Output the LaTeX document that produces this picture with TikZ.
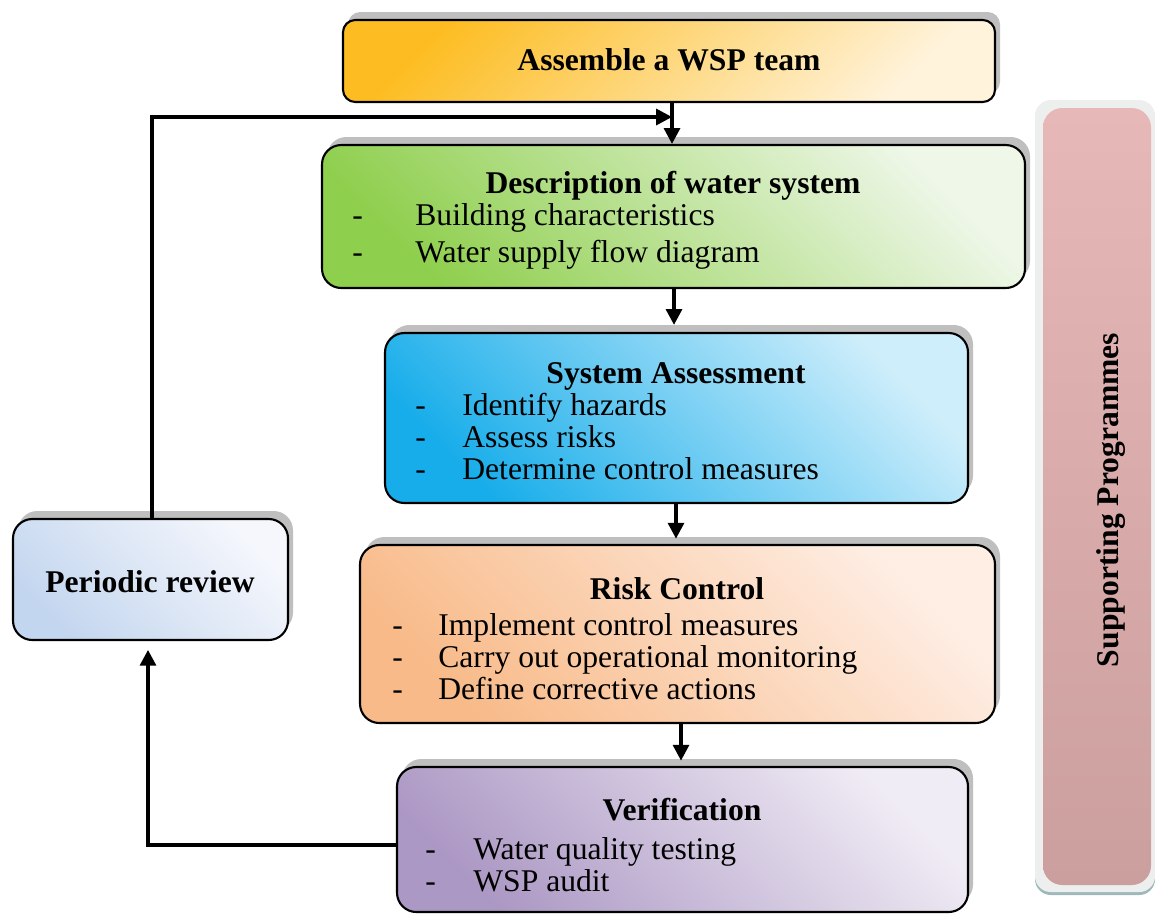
\documentclass[tikz,border=0pt]{standalone}
\usepackage{fontspec}
\setmainfont{Liberation Serif}
\usetikzlibrary{arrows.meta,fit,shadows}
\definecolor{shadowgray}{HTML}{BFBFBF}
\definecolor{asmA}{HTML}{FDBD22}
\definecolor{asmB}{HTML}{FFF3DC}
\definecolor{desA}{HTML}{8FCF4E}
\definecolor{desB}{HTML}{EEF7E8}
\definecolor{sysA}{HTML}{17ADEA}
\definecolor{sysB}{HTML}{CFEEFB}
\definecolor{rskA}{HTML}{F8BA88}
\definecolor{rskB}{HTML}{FEEEE4}
\definecolor{verA}{HTML}{AC98C4}
\definecolor{verB}{HTML}{F0ECF5}
\definecolor{perA}{HTML}{C3D6EF}
\definecolor{perB}{HTML}{F5F7FC}
\definecolor{supA}{HTML}{E6B8B7}
\definecolor{supB}{HTML}{CB9F9E}
\definecolor{supOut}{HTML}{EDEFEE}
\definecolor{supEdge}{HTML}{9FB8BC}
\tikzset{
  box/.style={draw=black, line width=1.2pt, rounded corners=11pt, inner sep=0pt,
    drop shadow={shadow xshift=0.1cm, shadow yshift=0.16cm, fill=shadowgray, opacity=1}},
  ttl/.style={font=\fontsize{18}{18}\selectfont\bfseries, anchor=base},
  itm/.style={font=\fontsize{18}{18}\selectfont, anchor=base west, inner sep=0pt},
  arr/.style={line width=2pt, -{Triangle[length=9pt,width=9pt]}}
}
\begin{document}
\begin{tikzpicture}[x=0.02cm,y=-0.02cm]
\useasboundingbox (0,0) rectangle (1155,914);
% boxes
\node[box, rounded corners=7pt, shade, top color=asmA, bottom color=asmB, shading angle=45, fit={(343,20)(995,102)}] (asm) {};
\node[box, shade, bottom color=desA, top color=desB, shading angle=-45, fit={(322,145)(1025,288)}] (des) {};
\node[box, shade, bottom color=sysA, top color=sysB, shading angle=-45, fit={(385,333)(968,503)}] (sys) {};
\node[box, shade, bottom color=rskA, top color=rskB, shading angle=-45, fit={(360,545)(995,723)}] (rsk) {};
\node[box, shade, bottom color=verA, top color=verB, shading angle=-45, fit={(397,767)(968,912)}] (ver) {};
\node[box, shade, bottom color=perA, top color=perB, shading angle=-45, fit={(13,519)(288,640)}] (per) {};
% supporting programmes
\node[fill=supOut, rounded corners=9pt, inner sep=0pt, fit={(1035,100)(1155,892)},
  drop shadow={shadow xshift=0cm, shadow yshift=-0.06cm, fill=supEdge, opacity=1}] (supo) {};
\node[shade, top color=supA, bottom color=supB, rounded corners=11pt, inner sep=0pt, fit={(1043,108)(1151,885)}] (sup) {};
\node[font=\fontsize{18}{18}\selectfont\bfseries, rotate=90] (supt) at (1111,500) {Supporting Programmes};
% texts
\node[ttl] (asmt) at (669,70) {Assemble a WSP team};
\node[ttl] (dest) at (673,193) {Description of water system};
\node[itm] (desd1) at (352,225) {-};
\node[itm] (desi1) at (415,225) {Building characteristics};
\node[itm] (desd2) at (352,262) {-};
\node[itm] (desi2) at (415,262) {Water supply flow diagram};
\node[ttl] (syst) at (676,383) {System Assessment};
\node[itm] (sysd1) at (415,415) {-};
\node[itm] (sysi1) at (462,415) {Identify hazards};
\node[itm] (sysd2) at (415,447) {-};
\node[itm] (sysi2) at (462,447) {Assess risks};
\node[itm] (sysd3) at (415,479) {-};
\node[itm] (sysi3) at (462,479) {Determine control measures};
\node[ttl] (rskt) at (677,599) {Risk Control};
\node[itm] (rskd1) at (392,635) {-};
\node[itm] (rski1) at (438,635) {Implement control measures};
\node[itm] (rskd2) at (392,667) {-};
\node[itm] (rski2) at (438,667) {Carry out operational monitoring};
\node[itm] (rskd3) at (392,699) {-};
\node[itm] (rski3) at (438,699) {Define corrective actions};
\node[ttl] (vert) at (682,820) {Verification};
\node[itm] (verd1) at (425,859) {-};
\node[itm] (veri1) at (473,859) {Water quality testing};
\node[itm] (verd2) at (425,891) {-};
\node[itm] (veri2) at (473,891) {WSP audit};
\node[ttl] (pert) at (150,592) {Periodic review};
% connectors
\draw[arr] (asm.south -| 672,0) -- (des.north -| 672,0);
\draw[arr, shorten >=4pt] (des.south -| 674,0) -- (sys.north -| 674,0);
\draw[arr, shorten >=3pt] (sys.south -| 676,0) -- (rsk.north -| 676,0);
\draw[arr, shorten >=3pt] (rsk.south -| 681,0) -- (ver.north -| 681,0);
\coordinate (join) at (672,117);
\draw[arr] (per.north -| 152,0) -- (152,117) -- (join);
\draw[arr, shorten >=5pt] (ver.west |- 0,845) -- (148,845) -- (per.south -| 148,0);
\end{tikzpicture}
\end{document}
